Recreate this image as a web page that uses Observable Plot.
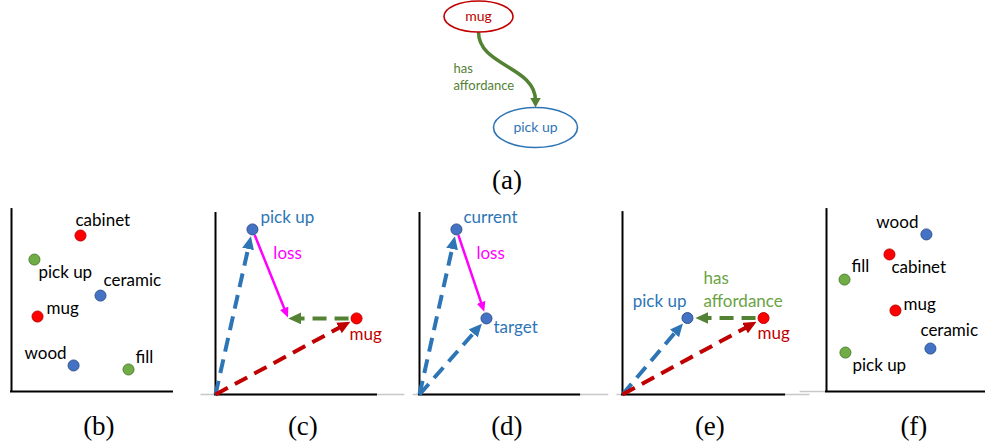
<!DOCTYPE html>
<html>
<head>
<meta charset="utf-8">
<script src="https://cdn.jsdelivr.net/npm/d3@7"></script>
<script src="https://cdn.jsdelivr.net/npm/@observablehq/plot@0.6"></script>
<style>
  body { margin: 0; background: #fff; }
  #fig { position: relative; width: 985px; height: 446px; overflow: hidden; background: #fff; }
  #fig > svg { position: absolute; left: 0; top: 0; }
</style>
</head>
<body>
<div id="fig"></div>
<script>
// ---------- (a) knowledge-graph fragment ----------
const graphNodes = ["mug", "pick up"];
const graphNodeKind = ["object", "affordance"];
const graphNodeX = [0, 1];
const graphNodeY = [0, 1];
const graphEdgeSource = ["mug"];
const graphEdgeTarget = ["pick up"];
const graphEdgeLabel = ["has\naffordance"];

// ---------- (b) pre-trained word embedding ----------
const wordsB = ["cabinet", "pick up", "ceramic", "mug", "wood", "fill"];
const kindB = ["object", "affordance", "material", "object", "material", "affordance"];
const xB = [3.79, 1.26, 4.89, 1.43, 3.41, 6.43];
const yB = [8.57, 7.25, 5.27, 4.12, 1.43, 1.21];

// ---------- (c) translation of mug by "has affordance" ----------
const wordsC = ["pick up", "mug"];
const kindC = ["affordance", "object"];
const xC = [2.03, 7.75];
const yC = [9.07, 4.18];
const hasAffordanceC = [-3.75, 0];

// ---------- (d) generic loss between current and target ----------
const wordsD = ["current", "target"];
const kindD = ["affordance", "affordance"];
const xD = [2.03, 3.68];
const yD = [9.07, 4.18];

// ---------- (e) after training ----------
const wordsE = ["pick up", "mug"];
const kindE = ["affordance", "object"];
const xE = [3.57, 7.75];
const yE = [4.2, 4.2];

// ---------- (f) retrofitted embedding ----------
const wordsF = ["wood", "cabinet", "fill", "mug", "ceramic", "pick up"];
const kindF = ["material", "object", "affordance", "object", "material", "affordance"];
const xF = [5.49, 3.46, 0.99, 3.79, 5.71, 1.04];
const yF = [8.63, 7.53, 6.15, 4.45, 2.36, 2.14];

// ---------- layout & style ----------
const W = 985, H = 446;
const S = 18.2;                 // px per embedding unit in panels (b)–(f)
const LETTER_Y = 426;           // vertical centre of the panel letters
const LETTER_SIZE = 27;
const svgNS = "http://www.w3.org/2000/svg";

const panels = {
  b: {axisX: 11,  axisY: 391, xMax: 8.9,  yMax: 10.05, gray: null},
  c: {axisX: 215, axisY: 394, xMax: 8.9,  yMax: 10.0,  gray: [-0.8, 10.4]},
  d: {axisX: 419, axisY: 394, xMax: 8.85, yMax: 10.0,  gray: [-0.35, 10.4]},
  e: {axisX: 622, axisY: 394, xMax: 8.96, yMax: 10.05, gray: [-0.3, 10.3]},
  f: {axisX: 826, axisY: 391, xMax: 9.0,  yMax: 10.05, gray: [-1.45, 0]}
};

const scatterFill   = {object: "#ff0000", material: "#4472c4", affordance: "#70ad47"};
const scatterStroke = {object: "#c00000", material: "#2f528f", affordance: "#507e32"};
const vectorFill    = {object: "#ff0000", affordance: "#4472c4"};
const vectorStroke  = {object: "#c00000", affordance: "#2f528f"};
const vectorText    = {object: "#c00000", affordance: "#2e75b6"};
const BLUE = "#2e75b6", RED = "#c00000", GREEN = "#548235", MAGENTA = "#ff00ff";

// label placement: [textAnchor, dx, dy to baseline]
const placeB = {
  "cabinet": ["start", -5, -10], "pick up": ["start", 4, 18], "ceramic": ["start", 3, -10],
  "mug": ["start", 9, -3], "wood": ["end", -7, -6], "fill": ["start", 7, -6]
};
const placeF = {
  "wood": ["end", -8, -6], "cabinet": ["start", 2, 19], "fill": ["start", 7, -8],
  "mug": ["start", 8, -1], "ceramic": ["start", -10, -13], "pick up": ["start", 7, 18]
};
const placeC = {"pick up": ["start", 8, -6], "mug": ["start", -7, 22]};
const placeD = {"current": ["start", 7, -6], "target": ["start", 7, 15]};
const placeE = {"pick up": ["end", -1, -11], "mug": ["start", -6, 21]};

const DASHED_HEAD = {len: 13, wid: 12};
const LOSS_HEAD = {len: 10, wid: 9};
const EDGE_HEAD = {len: 10, wid: 11};

// Filled triangular arrowhead; its tip sits 70% of its length past the line end.
function triangleHead({len, wid}) {
  return (color) => {
    const m = document.createElementNS(svgNS, "marker");
    m.setAttribute("viewBox", `0 ${-wid / 2} ${len} ${wid}`);
    m.setAttribute("markerUnits", "userSpaceOnUse");
    m.setAttribute("markerWidth", len);
    m.setAttribute("markerHeight", wid);
    m.setAttribute("refX", len * 0.3);
    m.setAttribute("refY", 0);
    m.setAttribute("orient", "auto");
    const p = document.createElementNS(svgNS, "path");
    p.setAttribute("d", `M0,${-wid / 2}L${len},0L0,${wid / 2}Z`);
    p.setAttribute("fill", color);
    p.setAttribute("stroke", "none");
    m.appendChild(p);
    return m;
  };
}

// Ellipse symbol for graph nodes (ry comes from r, rx = aspect * ry)
function ellipseSymbol(aspect) {
  return {
    draw(ctx, size) {
      const ry = Math.sqrt(size / Math.PI), rx = ry * aspect, k = 0.5523;
      ctx.moveTo(rx, 0);
      ctx.bezierCurveTo(rx, k * ry, k * rx, ry, 0, ry);
      ctx.bezierCurveTo(-k * rx, ry, -rx, k * ry, -rx, 0);
      ctx.bezierCurveTo(-rx, -k * ry, -k * rx, -ry, 0, -ry);
      ctx.bezierCurveTo(k * rx, -ry, rx, -k * ry, rx, 0);
      ctx.closePath();
    }
  };
}

// Straight arrow between two embedding positions, trimmed in screen pixels
function vectorArrow(from, to, {color, width, dash, head, startInset = 0, tipInset = 0}) {
  const L = Math.hypot((to[0] - from[0]) * S, (to[1] - from[1]) * S);
  const a = startInset / L, b = 1 - (tipInset + head.len * 0.7) / L;
  const seg = {
    x1: from[0] + (to[0] - from[0]) * a, y1: from[1] + (to[1] - from[1]) * a,
    x2: from[0] + (to[0] - from[0]) * b, y2: from[1] + (to[1] - from[1]) * b
  };
  return Plot.link([seg], {
    x1: "x1", y1: "y1", x2: "x2", y2: "y2",
    stroke: color, strokeWidth: width, strokeDasharray: dash,
    markerEnd: triangleHead(head)
  });
}

function frameMarks(id) {
  const p = panels[id];
  const marks = [];
  if (p.gray) marks.push(Plot.ruleY([0], {x1: p.gray[0], x2: p.gray[1], stroke: "#c8c8c8", strokeWidth: 1.5}));
  marks.push(Plot.ruleY([0], {x1: -1 / S, x2: p.xMax, stroke: "#000", strokeWidth: 2}));
  marks.push(Plot.ruleX([0], {y1: 0, y2: p.yMax, stroke: "#000", strokeWidth: 2}));
  marks.push(Plot.text([id], {
    x: 4.8, y: 0, text: (d) => `(${d})`, dy: LETTER_Y - p.axisY, lineAnchor: "middle",
    fontFamily: "Liberation Serif", fontSize: LETTER_SIZE, fill: "#000"
  }));
  return marks;
}

function panelPlot(id, marks) {
  const p = panels[id];
  return Plot.plot({
    width: W, height: H, margin: 0,
    x: {domain: [0, 10], range: [p.axisX, p.axisX + 10 * S], axis: null},
    y: {domain: [0, 10], range: [p.axisY, p.axisY - 10 * S], axis: null},
    color: {type: "identity"},
    style: {background: "transparent", overflow: "visible", fontFamily: "Lato", fontSize: "17px"},
    marks: [...frameMarks(id), ...marks]
  });
}

function rowsOf(words, kinds, xs, ys) {
  return words.map((w, i) => ({word: w, kind: kinds[i], x: xs[i], y: ys[i]}));
}

function labelMarks(rows, place, colorOf) {
  return rows.map((d) => {
    const [anchor, dx, dy] = place[d.word];
    return Plot.text([d], {
      x: "x", y: "y", text: "word", textAnchor: anchor, dx, dy,
      lineAnchor: "bottom", fill: colorOf(d), fontSize: 17
    });
  });
}

function scatterPanel(id, words, kinds, xs, ys, place) {
  const rows = rowsOf(words, kinds, xs, ys);
  return panelPlot(id, [
    Plot.dot(rows, {x: "x", y: "y", r: 5.5, fill: (d) => scatterFill[d.kind], stroke: (d) => scatterStroke[d.kind], strokeWidth: 1}),
    ...labelMarks(rows, place, () => "#000")
  ]);
}

function vectorDots(rows) {
  return Plot.dot(rows, {x: "x", y: "y", r: 5.5, fill: (d) => vectorFill[d.kind], stroke: (d) => vectorStroke[d.kind], strokeWidth: 1});
}

const dashedStyle = (color) => ({color, width: 4, dash: "14,8", head: DASHED_HEAD, tipInset: 7});
const lossStyle = {color: MAGENTA, width: 2.5, dash: null, head: LOSS_HEAD};
const O = [0, 0];
const fig = document.getElementById("fig");

// ---------- (a) ----------
{
  const nodeShape = {"mug": {rx: 34.5, ry: 15.5}, "pick up": {rx: 42, ry: 20}};
  const nodeColor = {object: RED, affordance: BLUE};
  const nodes = graphNodes.map((n, i) => ({name: n, kind: graphNodeKind[i], x: graphNodeX[i], y: graphNodeY[i]}));
  const byName = Object.fromEntries(nodes.map((n) => [n.name, n]));
  const pxPerY = 127 - 16;
  const edges = graphEdgeSource.map((s, i) => {
    const a = byName[s], b = byName[graphEdgeTarget[i]];
    return {
      x1: a.x, y1: a.y + nodeShape[a.name].ry / pxPerY,
      x2: b.x, y2: b.y - (nodeShape[b.name].ry + EDGE_HEAD.len * 0.7) / pxPerY,
      mx: (a.x + b.x) / 2, my: (a.y + b.y) / 2, label: graphEdgeLabel[i]
    };
  });
  const svg = Plot.plot({
    width: W, height: H, margin: 0,
    x: {domain: [0, 1], range: [478, 535], axis: null},
    y: {domain: [0, 1], range: [16, 127], axis: null},
    style: {background: "transparent", overflow: "visible", fontFamily: "Lato", fontSize: "14px"},
    marks: [
      Plot.link(edges, {
        x1: "x1", y1: "y1", x2: "x2", y2: "y2", curve: "bump-y",
        stroke: GREEN, strokeWidth: 3.5, markerEnd: triangleHead(EDGE_HEAD)
      }),
      ...nodes.map((n) => Plot.dot([n], {
        x: "x", y: "y", r: nodeShape[n.name].ry,
        symbol: ellipseSymbol(nodeShape[n.name].rx / nodeShape[n.name].ry),
        fill: "#fff", stroke: nodeColor[n.kind], strokeWidth: 1.6
      })),
      ...nodes.map((n) => Plot.text([n], {
        x: "x", y: "y", text: "name", fill: nodeColor[n.kind], fontSize: 14, lineAnchor: "middle"
      })),
      Plot.text(edges, {
        x: "mx", y: "my", text: "label", textAnchor: "start", lineAnchor: "bottom",
        dx: -53.5, dy: 17.5, lineHeight: 1.3, fill: GREEN, fontSize: 13
      }),
      Plot.text(["a"], {
        x: 0.5, y: 1, text: (d) => `(${d})`, dy: 53, lineAnchor: "middle",
        fontFamily: "Liberation Serif", fontSize: LETTER_SIZE, fill: "#000"
      })
    ]
  });
  fig.appendChild(svg);
}

// ---------- (b) ----------
fig.appendChild(scatterPanel("b", wordsB, kindB, xB, yB, placeB));

// ---------- (c) ----------
{
  const rows = rowsOf(wordsC, kindC, xC, yC);
  const [pick, mug] = rows;
  const moved = [mug.x + hasAffordanceC[0], mug.y + hasAffordanceC[1]];
  const lossMid = {x: (pick.x + moved[0]) / 2, y: (pick.y + moved[1]) / 2};
  fig.appendChild(panelPlot("c", [
    vectorArrow(O, [pick.x, pick.y], dashedStyle(BLUE)),
    vectorArrow(O, [mug.x, mug.y], dashedStyle(RED)),
    vectorArrow([mug.x, mug.y], moved, {color: GREEN, width: 4, dash: "14,8", head: DASHED_HEAD, startInset: 8, tipInset: 0}),
    vectorArrow([pick.x, pick.y], moved, {...lossStyle, startInset: 6, tipInset: 1}),
    vectorDots(rows),
    ...labelMarks(rows, placeC, (d) => vectorText[d.kind]),
    Plot.text([lossMid], {x: "x", y: "y", text: () => "loss", textAnchor: "start", lineAnchor: "bottom", dx: 3, dy: -15, fill: MAGENTA, fontSize: 17})
  ]));
}

// ---------- (d) ----------
{
  const rows = rowsOf(wordsD, kindD, xD, yD);
  const [cur, tgt] = rows;
  const lossMid = {x: (cur.x + tgt.x) / 2, y: (cur.y + tgt.y) / 2};
  fig.appendChild(panelPlot("d", [
    vectorArrow(O, [cur.x, cur.y], dashedStyle(BLUE)),
    vectorArrow(O, [tgt.x, tgt.y], dashedStyle(BLUE)),
    vectorArrow([cur.x, cur.y], [tgt.x, tgt.y], {...lossStyle, startInset: 6, tipInset: 7}),
    vectorDots(rows),
    ...labelMarks(rows, placeD, (d) => vectorText[d.kind]),
    Plot.text([lossMid], {x: "x", y: "y", text: () => "loss", textAnchor: "start", lineAnchor: "bottom", dx: 5, dy: -15, fill: MAGENTA, fontSize: 17})
  ]));
}

// ---------- (e) ----------
{
  const rows = rowsOf(wordsE, kindE, xE, yE);
  const [pick, mug] = rows;
  const relMid = {x: (pick.x + mug.x) / 2, y: (pick.y + mug.y) / 2, label: "has\naffordance"};
  fig.appendChild(panelPlot("e", [
    vectorArrow(O, [pick.x, pick.y], dashedStyle(BLUE)),
    vectorArrow(O, [mug.x, mug.y], {...dashedStyle(RED), tipInset: 8}),
    vectorArrow([mug.x, mug.y], [pick.x, pick.y], {color: GREEN, width: 4, dash: "14,8", head: DASHED_HEAD, startInset: 8, tipInset: 8}),
    vectorDots(rows),
    ...labelMarks(rows, placeE, (d) => vectorText[d.kind]),
    Plot.text([relMid], {x: "x", y: "y", text: "label", textAnchor: "start", lineAnchor: "bottom", dx: -22, dy: -11.5, lineHeight: 1.35, fill: "#6aa343", fontSize: 17})
  ]));
}

// ---------- (f) ----------
fig.appendChild(scatterPanel("f", wordsF, kindF, xF, yF, placeF));
</script>
</body>
</html>
